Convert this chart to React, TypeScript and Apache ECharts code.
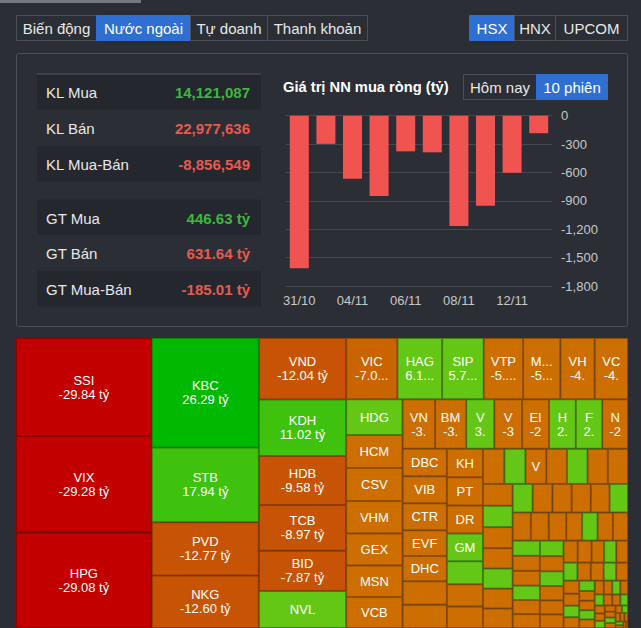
import React, { useEffect, useRef } from 'react';
import * as echarts from 'echarts';

// ---------- data ----------
const tabs = ['Biến động', 'Nước ngoài', 'Tự doanh', 'Thanh khoản'];
const activeTab = 1;
const exchanges = ['HSX', 'HNX', 'UPCOM'];
const activeExchange = 0;
const periods = ['Hôm nay', '10 phiên'];
const activePeriod = 1;

const summaryLabels = ['KL Mua', 'KL Bán', 'KL Mua-Bán', 'GT Mua', 'GT Bán', 'GT Mua-Bán'];
const summaryValues = ['14,121,087', '22,977,636', '-8,856,549', '446.63 tỷ', '631.64 tỷ', '-185.01 tỷ'];
const summaryUp = [true, false, false, true, false, false];

const chartTitle = 'Giá trị NN mua ròng (tỷ)';
const sessionDates = ['31/10', '01/11', '04/11', '05/11', '06/11', '07/11', '08/11', '11/11', '12/11', '13/11'];
const netBuyValues = [-1613, -298, -666, -849, -377, -387, -1166, -951, -602, -185.01];

const treemapTickers = [
  'SSI', 'VIX', 'HPG', 'KBC', 'STB', 'PVD', 'NKG', 'VND', 'KDH', 'HDB', 'TCB', 'BID', 'NVL',
  'VIC', 'HAG', 'SIP', 'VTP', 'MBB', 'VHC', 'VCG',
  'HDG', 'HCM', 'CSV', 'VHM', 'GEX', 'MSN', 'VCB',
  'VNM', 'BMP', 'VGC', 'VPB', 'EIB', 'HSG', 'FRT', 'NLG',
  'DBC', 'VIB', 'CTR', 'EVF', 'DHC', 'DXG', 'DIG',
  'KHG', 'PTB', 'DRC', 'GMD', 'HHV', 'CII', 'NT2',
  'MCM', 'MSH', 'VCI', 'MDG', 'MIG', 'MHC', 'MCP',
  'OIL', 'GAS',
  'OCB', 'GVR', 'REE', 'DGW', 'HAX', 'NAB', 'CTD', 'DPG',
  'GIL', 'HQC', 'CRE', 'NTL', 'DXS', 'HVN',
  'MWG', 'NAF', 'ORS', 'DCL', 'HNG', 'CMX', 'DBD', 'GEG', 'HPX', 'NHA',
  'DHA', 'CSM', 'DSN', 'GDT', 'HTN', 'NSC', 'CNG', 'DVP',
  'HVH', 'NBB', 'CHP', 'DTL', 'GMC', 'HID', 'NVT', 'CTF', 'DAH',
  'GSP', 'HMC', 'NHH', 'CKG', 'DLG', 'GTA', 'HRC', 'NCT', 'CIG',
  'DMC', 'HTV', 'NNC', 'CLC', 'DRL', 'HBC', 'NAV', 'CVT', 'DHM', 'HCD',
  'CCL', 'DTA', 'HAS', 'NHT', 'CDC', 'DQC', 'HOT', 'DGC', 'CLW', 'DTT', 'HU1', 'NAG', 'CRC', 'DXV',
];
const treemapValues = [
  -29.84, -29.28, -29.08, 26.29, 17.94, -12.77, -12.6, -12.04, 11.02, -9.58, -8.97, -7.87, 7.21,
  -7.04, 6.15, 5.72, -5.41, -5.12, -4.72, -4.58,
  4.5, -4.2, -4.16, -4.12, -4.06, -3.98, -3.92,
  -3.6, -3.45, 3.12, -3.08, -2.99, 2.97, 2.93, -2.86,
  -2.72, -2.69, -2.66, -2.56, -2.52, -2.32, -2.31,
  -2.3, -2.28, -2.26, 2.24, 1.86, -1.8, -1.74,
  -1.68, 1.66, -1.64, -1.63, 1.62, -1.6, -1.58,
  -1.45, 1.42,
  -1.4, -1.36, 1.34, -1.32, -1.3, 1.28, -1.26, -1.24,
  -1.22, -1.2, 1.18, -1.15, -1.12, -1.1,
  -1.0, 0.98, -0.96, -0.95, 0.93, -0.92, -0.9, 0.88, -0.86, -0.85,
  0.82, -0.8, 0.78, -0.76, -0.74, -0.72, -0.7, -0.68,
  -0.62, 0.6, -0.58, 0.56, -0.54, -0.52, 0.5, -0.48, -0.46,
  -0.42, 0.4, -0.38, 0.36, -0.34, -0.33, 0.32, -0.3, -0.28,
  -0.26, 0.25, -0.24, 0.22, -0.21, -0.2, 0.19, -0.18, -0.17, 0.16,
  -0.15, -0.14, 0.13, -0.12, -0.11, 0.1, -0.09, -0.08, -0.07, 0.06, -0.05, -0.04, -0.03, -0.02,
];

// ---------- styles / layout ----------
const FONT = '"Liberation Sans", Arial, Helvetica, sans-serif';
const BG = '#2b2e35';
const BORDER = '#4b4f58';
const BLUE = '#2f6fd1';
const TEXT = '#e8e8e8';
const GREEN_TXT = '#3db83d';
const RED_TXT = '#e85a4f';

function cellColor(v: number): string {
  if (v <= -20) return '#c20000';
  if (v <= -7.5) return '#c65404';
  if (v <= -6.5) return '#c96400';
  if (v < 0) return '#cc6e00';
  if (v >= 20) return '#00b900';
  if (v >= 10) return '#3ec20e';
  return '#64c715';
}

function buttonGroup(labels: string[], xs: number[], y: number, h: number, active: number) {
  const els: any[] = [];
  labels.forEach((lab, i) => {
    els.push({
      type: 'rect',
      shape: { x: xs[i] + 0.5, y: y + 0.5, width: xs[i + 1] - xs[i], height: h },
      style: { fill: i === active ? BLUE : BG, stroke: i === active ? BLUE : BORDER, lineWidth: 1 },
    });
  });
  labels.forEach((lab, i) => {
    els.push({
      type: 'text',
      style: {
        text: lab,
        x: (xs[i] + xs[i + 1]) / 2 + 0.5,
        y: y + h / 2 + 1,
        align: 'center',
        verticalAlign: 'middle',
        fill: i === active ? '#ffffff' : TEXT,
        fontSize: 15,
        fontFamily: FONT,
      },
    });
  });
  return els;
}

export default function App() {
  const ref = useRef<HTMLDivElement>(null);

  useEffect(() => {
    if (!ref.current) return;
    const chart = echarts.init(ref.current, undefined, { renderer: 'svg' });

    const elements: any[] = [];
    elements.push({ type: 'rect', shape: { x: 0, y: 0, width: 141, height: 3 }, style: { fill: '#74777e' } });
    elements.push(...buttonGroup(tabs, [16, 96, 190, 267, 367], 15, 25, activeTab));
    elements.push(...buttonGroup(exchanges, [469, 514, 555, 627], 15, 25, activeExchange));

    // panel
    elements.push({
      type: 'rect',
      shape: { x: 16.5, y: 53.5, width: 611, height: 273, r: 2 },
      style: { fill: 'none', stroke: BORDER, lineWidth: 1 },
    });

    // summary table
    const rowTops = [74, 109.5, 146, 199.5, 235, 271];
    const rowH = 35.5;
    const dark = [true, false, true, true, false, true];
    summaryLabels.forEach((lab, i) => {
      if (dark[i]) {
        elements.push({
          type: 'rect',
          shape: { x: 37, y: rowTops[i], width: 224, height: rowH },
          style: { fill: '#24272d' },
        });
      }
      elements.push({
        type: 'text',
        style: {
          text: lab, x: 46, y: rowTops[i] + rowH / 2 + 1, align: 'left', verticalAlign: 'middle',
          fill: TEXT, fontSize: 15, fontFamily: FONT,
        },
      });
      elements.push({
        type: 'text',
        style: {
          text: summaryValues[i], x: 250, y: rowTops[i] + rowH / 2 + 1, align: 'right', verticalAlign: 'middle',
          fill: summaryUp[i] ? GREEN_TXT : RED_TXT, fontSize: 15, fontWeight: 'bold', fontFamily: FONT,
        },
      });
    });
    elements.push({
      type: 'line',
      shape: { x1: 37, y1: 74, x2: 261, y2: 74 },
      style: { stroke: '#555961', lineWidth: 1 },
    });

    // bar chart title and period buttons
    elements.push({
      type: 'text',
      style: {
        text: chartTitle, x: 283, y: 87, align: 'left', verticalAlign: 'middle',
        fill: '#ffffff', fontSize: 14.7, fontWeight: 'bold', fontFamily: FONT,
      },
    });
    elements.push(...buttonGroup(periods, [463, 536, 607], 74, 25, activePeriod));

    const treeData = treemapTickers.map((name, i) => ({
      name,
      value: Math.abs(treemapValues[i]),
      net: treemapValues[i],
      itemStyle: { color: cellColor(treemapValues[i]), borderWidth: 1, borderColorSaturation: 0.28 },
    }));

    const option: any = {
      animation: false,
      backgroundColor: BG,
      textStyle: { fontFamily: FONT },
      graphic: { elements },
      grid: { left: 286, right: 89, top: 115.7, bottom: 342, containLabel: false },
      xAxis: {
        type: 'category',
        data: sessionDates,
        position: 'bottom',
        axisLine: { show: false, onZero: false },
        axisTick: { show: false },
        axisLabel: { interval: 1, color: '#c8c8c8', fontSize: 13, margin: 8, fontFamily: FONT },
        splitLine: { show: false },
      },
      yAxis: {
        type: 'value',
        position: 'right',
        min: -1800,
        max: 0,
        interval: 300,
        axisLine: { show: false },
        axisTick: { show: false },
        splitLine: { lineStyle: { color: '#44474f', width: 1 } },
        axisLabel: {
          color: '#c8c8c8', fontSize: 13, margin: 9, fontFamily: FONT,
          formatter: (v: number) => v.toLocaleString('en-US'),
        },
      },
      series: [
        {
          type: 'bar',
          data: netBuyValues,
          barWidth: 19,
          itemStyle: { color: '#f05350' },
          silent: true,
        },
        {
          type: 'treemap',
          left: 16,
          top: 338,
          width: 612,
          height: 290,
          roam: false,
          nodeClick: false,
          silent: true,
          breadcrumb: { show: false },
          itemStyle: { borderWidth: 0, gapWidth: 0, borderColor: 'transparent' },
          levels: [{ itemStyle: { borderWidth: 0, gapWidth: 0, borderColor: 'transparent' } }],
          label: {
            show: true,
            color: '#ffffff',
            fontSize: 13,
            lineHeight: 14,
            padding: [4, 4],
            fontFamily: FONT,
            formatter: (p: any) => `${p.name}\n${p.data.net.toFixed(2)} tỷ`,
          },
          upperLabel: { show: false },
          data: treeData,
        },
      ],
    };

    chart.setOption(option);
    return () => chart.dispose();
  }, []);

  return (
    <div
      ref={ref}
      style={{ position: 'fixed', left: 0, top: 0, width: 641, height: 628 }}
    />
  );
}
